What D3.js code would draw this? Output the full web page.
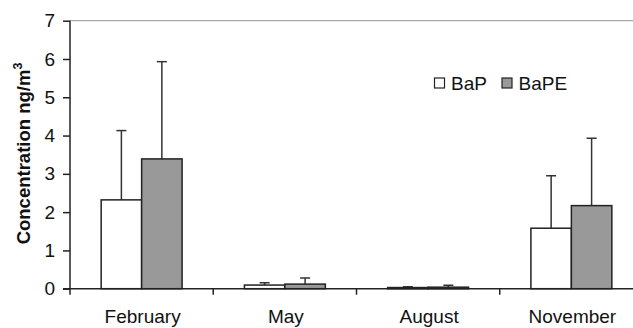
<!DOCTYPE html>
<html>
<head>
<meta charset="utf-8">
<script src="https://cdn.jsdelivr.net/npm/d3@7"></script>
<style>
html,body{margin:0;padding:0;background:#fff;}
svg{display:block;}
text{font-family:"Liberation Sans",Arial,sans-serif;fill:#111;}
</style>
</head>
<body>
<svg id="chart" width="633" height="328"></svg>
<script>
const categories = ["February", "May", "August", "November"];
const series = ["BaP", "BaPE"];
const bapValues = [2.32, 0.095, 0.03, 1.58];
const bapErrors = [1.81, 0.06, 0.02, 1.37];
const bapeValues = [3.39, 0.12, 0.04, 2.17];
const bapeErrors = [2.54, 0.16, 0.05, 1.76];
const yTicks = [0, 1, 2, 3, 4, 5, 6, 7];
const colors = {BaP: "#ffffff", BaPE: "#999999"};

const svg = d3.select("#chart");
const mLeft = 70, mRight = 643, mTop = 20.7, mBottom = 288.7;

const x0 = d3.scaleBand().domain(categories).range([mLeft, mRight]).padding(0);
const x1 = d3.scaleBand().domain(series).range([0, x0.bandwidth()]).paddingInner(0).paddingOuter(0.77);
const y = d3.scaleLinear().domain([0, 7]).range([mBottom, mTop]);

const data = categories.map((c, i) => ({
  cat: c,
  vals: [
    {s: "BaP", v: bapValues[i], e: bapErrors[i]},
    {s: "BaPE", v: bapeValues[i], e: bapeErrors[i]}
  ]
}));

// top gray line
svg.append("line").attr("x1", mLeft).attr("x2", mRight)
  .attr("y1", y(7)).attr("y2", y(7))
  .attr("stroke", "#aaaaaa").attr("stroke-width", 1.2);

const groups = svg.selectAll("g.cat").data(data).enter().append("g")
  .attr("class", "cat")
  .attr("transform", d => `translate(${x0(d.cat)},0)`);

// error bars
groups.selectAll("g.err").data(d => d.vals).enter().append("g").attr("class", "err")
  .each(function(d) {
    const g = d3.select(this);
    const cx = x1(d.s) + x1.bandwidth() / 2;
    g.append("line").attr("x1", cx).attr("x2", cx)
      .attr("y1", y(d.v)).attr("y2", y(d.v + d.e))
      .attr("stroke", "#333").attr("stroke-width", 1.5);
    g.append("line").attr("x1", cx - 5).attr("x2", cx + 5)
      .attr("y1", y(d.v + d.e)).attr("y2", y(d.v + d.e))
      .attr("stroke", "#333").attr("stroke-width", 1.5);
  });

groups.selectAll("rect").data(d => d.vals).enter().append("rect")
  .attr("x", d => x1(d.s))
  .attr("width", x1.bandwidth())
  .attr("y", d => y(d.v))
  .attr("height", d => y(0) - y(d.v))
  .attr("fill", d => colors[d.s])
  .attr("stroke", "#222").attr("stroke-width", 1.5);

// y axis
const yAxis = d3.axisLeft(y).tickValues(yTicks).tickSize(7).tickPadding(8).tickFormat(d3.format("d"));
const ya = svg.append("g").attr("transform", `translate(${mLeft},0)`).call(yAxis);
ya.select(".domain").attr("stroke", "#222").attr("stroke-width", 1.5).attr("d", `M0,${mBottom}V${mTop}`);
ya.selectAll(".tick line").attr("stroke", "#222").attr("stroke-width", 1.5);
ya.selectAll(".tick text").attr("font-size", 19).attr("font-family", '"Liberation Sans",Arial,sans-serif').attr("fill", "#111");

// x axis
const xa = svg.append("g").attr("transform", `translate(0,${mBottom})`);
xa.append("line").attr("x1", mLeft - 7).attr("x2", mRight).attr("y1", 0).attr("y2", 0)
  .attr("stroke", "#222").attr("stroke-width", 1.5);
const boundaries = categories.map(c => x0(c)).concat([mRight]);
xa.selectAll("line.bt").data(boundaries).enter().append("line").attr("class", "bt")
  .attr("x1", d => d).attr("x2", d => d).attr("y1", 0).attr("y2", 6)
  .attr("stroke", "#222").attr("stroke-width", 1.5);
xa.selectAll("text").data(categories).enter().append("text")
  .attr("x", d => x0(d) + x0.bandwidth() / 2 + 1)
  .attr("y", 34.6)
  .attr("text-anchor", "middle")
  .attr("font-size", 19)
  .text(d => d);

// y title
const yt = svg.append("text")
  .attr("transform", "translate(29.5,153.5) rotate(-90)")
  .attr("text-anchor", "middle")
  .attr("font-size", 18.5)
  .attr("font-weight", "bold");
yt.append("tspan").text("Concentration ng/m");
yt.append("tspan").attr("font-size", 12.5).attr("dy", -7.5).text("3");

// legend
const legendX = [434.5, 502];
const lg = svg.selectAll("g.leg").data(series).enter().append("g").attr("class", "leg")
  .attr("transform", (d, i) => `translate(${legendX[i]},78)`);
lg.append("rect").attr("width", 10).attr("height", 10)
  .attr("fill", d => colors[d]).attr("stroke", "#222").attr("stroke-width", 1.2);
lg.append("text").attr("x", 16.5).attr("y", 12).attr("font-size", 19).text(d => d);
</script>
</body>
</html>
